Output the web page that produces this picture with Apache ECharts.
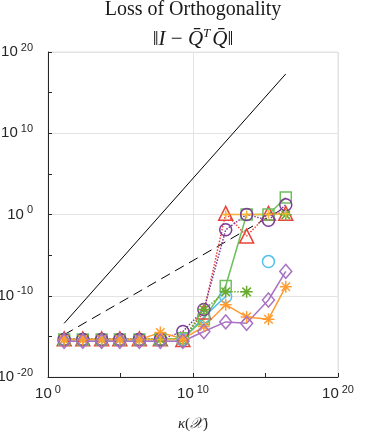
<!DOCTYPE html>
<html>
<head>
<meta charset="utf-8">
<script src="https://cdn.jsdelivr.net/npm/echarts@6/dist/echarts.min.js"></script>
<style>html,body{margin:0;padding:0;background:#fff}#c{width:366px;height:432px}</style>
</head>
<body>
<div id="c"></div>
<script>
// condition numbers kappa(X)
const kappa = [1.3e1, 2.5e2, 5e3, 9e4, 2e6, 5.6e7, 2e9, 5.6e10, 1.8e12, 5e13, 1.6e15, 2.5e16];
// loss of orthogonality for each method
const redTri    = [5e-16,5e-16,5e-16,5e-16,5e-16,5e-16,4e-16,1e-12,1.4,2.2e-3,1.4,1.4];
const purpleCir = [4e-16,4e-16,4e-16,4e-16,4e-16,4e-16,4e-15,2e-12,1.3e-2,1.0,0.2,16];
const greenSq   = [4e-16,4e-16,4e-16,4e-16,4e-16,4e-16,6e-16,1.3e-13,1.6e-9,1.0,1.0,126];
const blueCir   = [4e-16,4e-16,4e-16,4e-16,4e-16,4e-16,4e-16,2.5e-13,8e-11,null,1.6e-6,null];
const limeStar  = [4e-16,4e-16,4e-16,4e-16,4e-16,4e-16,4e-16,2e-12,3e-10,3e-10,null,0.9];
const yellowPlus= [4e-16,4e-16,4e-16,4e-16,4e-16,4e-16,4e-16,null,1.0,1.0,1.0,1.2];
const orangeStar= [4e-16,4e-16,4e-16,4e-16,4e-16,3e-15,5e-16,1.6e-14,8e-12,2.5e-13,1.3e-13,1.3e-9];
const lilacDia  = [2.5e-16,2.5e-16,2.5e-16,2.5e-16,2.5e-16,2.5e-16,2.5e-16,4e-15,6e-14,4e-14,3e-11,1e-7];
// reference lines: kappa^2 u and kappa u
const refX   = [1.3e1, 2.5e16];
const refSq  = [4e-14, 2e17];
const refLin = [1.6e-15, 8];
// ticks
const xTicks = [0, 10, 20];
const yTicks = [-20, -10, 0, 10, 20];

const L = Math.log10;
function pts(xs, ys){ return xs.map((x,i)=> ys[i]==null ? [L(x),'-'] : [L(x), L(ys[i])]); }

const STAR = 'path://M0,-10L0,10M-10,0L10,0M-7.07,-7.07L7.07,7.07M-7.07,7.07L7.07,-7.07';
const PLUS = 'path://M0,-10L0,10M-10,0L10,0';

function mk(name, ys, color, symbol, size, lineType){
  return {
    name, type:'line', data: pts(kappa, ys), symbol, symbolSize:size,
    showAllSymbol:true, connectNulls:false,
    lineStyle:{color, width:1.5, type:lineType},
    itemStyle:{color:'rgba(0,0,0,0)', borderColor:color, borderWidth:1.5},
    emphasis:{disabled:true}, z:3
  };
}

const rich = {
  b:{fontSize:15, fontFamily:'Liberation Sans', color:'#262626'},
  s:{fontSize:11, fontFamily:'Liberation Sans', color:'#262626', padding:[0,0,9,3]}
};
function fmt(ticks){ return v => ticks.indexOf(v) >= 0 ? '{b|10}{s|' + v + '}' : ''; }

const chart = echarts.init(document.getElementById('c'), null, {renderer:'canvas'});
chart.setOption({
  animation:false,
  grid:{left:48, right:28, top:52, bottom:55, containLabel:false, outerBoundsMode:'none',
    show:true, borderColor:'#e3e3e3', borderWidth:1},
  xAxis:{type:'value', min:0, max:20, interval:10,
    axisLine:{onZero:false, lineStyle:{color:'#262626'}},
    axisTick:{inside:true, length:4, lineStyle:{color:'#262626'}},
    minorTick:{show:true, splitNumber:2, length:4, lineStyle:{color:'#262626'}},
    splitLine:{show:true, lineStyle:{color:'#e3e3e3'}},
    axisLabel:{formatter:fmt(xTicks), rich, margin:7},
    name:'{i|κ}{n|(}{x|𝒳}{n|)}', nameLocation:'middle', nameGap:40,
    nameTextStyle:{rich:{
      i:{fontSize:15, fontFamily:'Liberation Serif', fontStyle:'italic', color:'#262626'},
      n:{fontSize:15, fontFamily:'Liberation Serif', color:'#262626'},
      x:{fontSize:15, fontFamily:'DejaVu Serif', fontStyle:'italic', color:'#262626'}
    }}
  },
  yAxis:{type:'value', min:-20, max:20, interval:10,
    axisLine:{show:true, onZero:false, lineStyle:{color:'#262626'}},
    axisTick:{show:true, inside:true, length:4, lineStyle:{color:'#262626'}},
    minorTick:{show:true, splitNumber:2, length:4, lineStyle:{color:'#262626'}},
    splitLine:{show:true, lineStyle:{color:'#e3e3e3'}},
    axisLabel:{formatter:fmt(yTicks), rich, margin:15}
  },
  graphic:[
    {type:'text', x:193, y:10, style:{text:'Loss of Orthogonality', font:'20px "Liberation Serif"', fill:'#1a1a1a', align:'center', verticalAlign:'middle'}},
    {type:'text', x:193, y:39, style:{
      text:'{n|‖}{i|I}{n| − }{i|Q\u0304}{t|T}{i|Q\u0304}{n|‖}', align:'center', verticalAlign:'middle',
      rich:{
        n:{font:'21px "Liberation Serif"', fill:'#1a1a1a'},
        i:{font:'italic 21px "Liberation Serif"', fill:'#1a1a1a'},
        t:{font:'italic 13px "Liberation Serif"', fill:'#1a1a1a', padding:[0,2,10,0]}
      }}}
  ],
  series:[
    {type:'line', data:pts(refX, refSq), symbol:'none', lineStyle:{color:'#000', width:1}, z:2},
    {type:'line', data:pts(refX, refLin), symbol:'none', lineStyle:{color:'#000', width:1, type:[10,6]}, z:2},
    mk('redTri', redTri, '#E8443A', 'triangle', 14, 'dotted'),
    mk('blueCir', blueCir, '#4FC1EE', 'circle', 12, 'solid'),
    mk('greenSq', greenSq, '#6DBF5E', 'rect', 11, 'solid'),
    mk('purpleCir', purpleCir, '#7E3A96', 'circle', 12, 'dotted'),
    mk('limeStar', limeStar, '#6AAA2E', STAR, 12, 'dotted'),
    mk('yellowPlus', yellowPlus, '#F2B431', PLUS, 8, 'solid'),
    mk('orangeStar', orangeStar, '#FF9D33', STAR, 12, 'solid'),
    mk('lilacDia', lilacDia, '#A873C4', 'diamond', [12,14], 'solid')
  ]
});
</script>
</body>
</html>
